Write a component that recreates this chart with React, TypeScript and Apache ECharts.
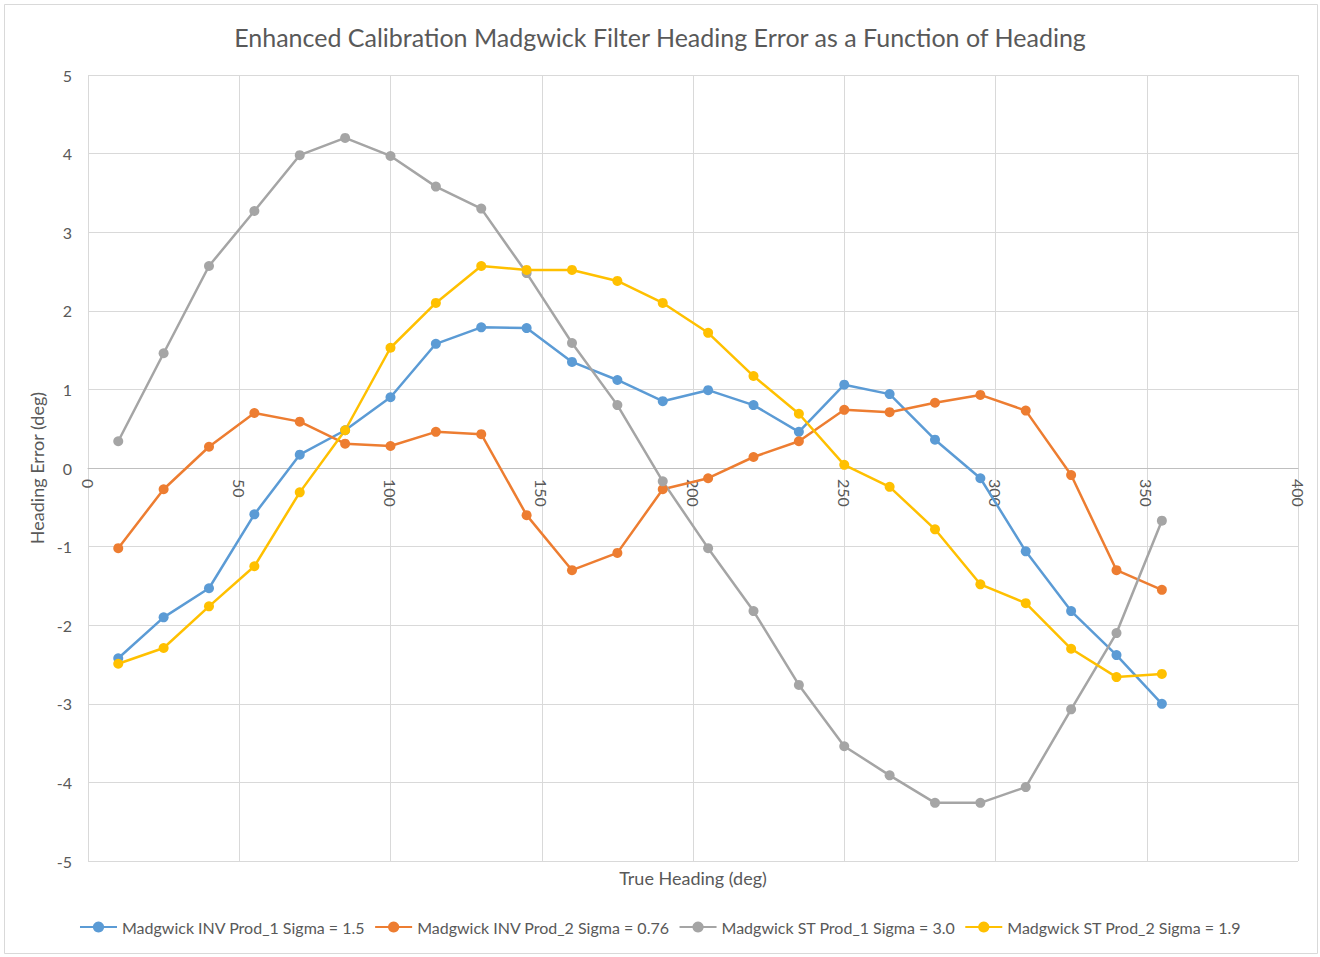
import React, { useEffect, useRef } from "react";
import * as echarts from "echarts";

const titleText = "Enhanced Calibration Madgwick Filter Heading Error as a Function of Heading";
const xAxisName = "True Heading (deg)";
const yAxisName = "Heading Error (deg)";

const headings = [10, 25, 40, 55, 70, 85, 100, 115, 130, 145, 160, 175, 190, 205, 220, 235, 250, 265, 280, 295, 310, 325, 340, 355];

const seriesNames = [
  "Madgwick INV Prod_1 Sigma = 1.5",
  "Madgwick INV Prod_2 Sigma = 0.76",
  "Madgwick ST Prod_1 Sigma = 3.0",
  "Madgwick ST Prod_2 Sigma = 1.9",
];

const invProd1 = [-2.42, -1.9, -1.53, -0.59, 0.17, 0.48, 0.9, 1.58, 1.79, 1.78, 1.35, 1.12, 0.85, 0.99, 0.8, 0.46, 1.06, 0.94, 0.36, -0.13, -1.06, -1.82, -2.38, -3.0];
const invProd2 = [-1.02, -0.27, 0.27, 0.7, 0.59, 0.31, 0.28, 0.46, 0.43, -0.6, -1.3, -1.08, -0.27, -0.13, 0.14, 0.34, 0.74, 0.71, 0.83, 0.93, 0.73, -0.09, -1.3, -1.55];
const stProd1 = [0.34, 1.46, 2.57, 3.27, 3.98, 4.2, 3.97, 3.58, 3.3, 2.48, 1.59, 0.8, -0.17, -1.02, -1.82, -2.76, -3.54, -3.91, -4.26, -4.26, -4.06, -3.07, -2.1, -0.67];
const stProd2 = [-2.49, -2.29, -1.76, -1.25, -0.31, 0.48, 1.53, 2.1, 2.57, 2.52, 2.52, 2.38, 2.1, 1.72, 1.17, 0.69, 0.04, -0.24, -0.78, -1.48, -1.72, -2.3, -2.66, -2.62];

const seriesValues = [invProd1, invProd2, stProd1, stProd2];
const colors = ["#5B9BD5", "#ED7D31", "#A5A5A5", "#FFC000"];

const FONT = "Lato, 'Open Sans', sans-serif";
const TEXT = "#595959";

export default function App() {
  const ref = useRef<HTMLDivElement>(null);

  useEffect(() => {
    if (!ref.current) return;
    const chart = echarts.init(ref.current, undefined, { renderer: "svg" });
    chart.setOption({
      animation: false,
      backgroundColor: "#ffffff",
      textStyle: { fontFamily: FONT },
      title: {
        text: titleText,
        left: "center",
        top: 19,
        textStyle: { fontFamily: FONT, fontSize: 25, fontWeight: "normal", color: TEXT },
      },
      grid: { left: 88, right: 22, top: 75, bottom: 96, containLabel: false },
      legend: {
        top: 914,
        left: "center",
        itemWidth: 37,
        itemHeight: 14,
        itemGap: 9,
        textStyle: { fontFamily: FONT, fontSize: 16, color: TEXT },
        data: seriesNames,
      },
      graphic: [
        {
          type: "rect",
          shape: { x: 4.5, y: 4.5, width: 1313, height: 949 },
          style: { fill: "none", stroke: "#D9D9D9", lineWidth: 1 },
          silent: true,
        },
        {
          type: "text",
          x: 693,
          y: 878,
          style: {
            text: xAxisName,
            fontFamily: FONT,
            fontSize: 18,
            fill: TEXT,
            textAlign: "center",
            textVerticalAlign: "middle",
          },
        },
      ],
      xAxis: {
        type: "value",
        min: 0,
        max: 400,
        interval: 50,
        position: "bottom",
        offset: -393,
        axisLine: { show: true, onZero: false, lineStyle: { color: "#BFBFBF", width: 1 } },
        axisTick: { show: false },
        axisLabel: { rotate: -90, margin: 11, fontFamily: FONT, fontSize: 16, color: TEXT },
        splitLine: { show: true, lineStyle: { color: "#D9D9D9", width: 1 } },
      },
      yAxis: {
        type: "value",
        min: -5,
        max: 5,
        interval: 1,
        name: yAxisName,
        nameLocation: "middle",
        nameGap: 39,
        nameTextStyle: { fontFamily: FONT, fontSize: 18, color: TEXT },
        axisLine: { show: false, onZero: false },
        axisTick: { show: false },
        axisLabel: { margin: 16, fontFamily: FONT, fontSize: 16, color: TEXT },
        splitLine: { show: true, lineStyle: { color: "#D9D9D9", width: 1 } },
      },
      series: seriesNames.map((name, i) => ({
        name,
        type: "line",
        data: headings.map((h, j) => [h, seriesValues[i][j]]),
        symbol: "circle",
        symbolSize: 10,
        color: colors[i],
        lineStyle: { width: 2.5, color: colors[i] },
        itemStyle: { color: colors[i] },
      })),
    });
    return () => chart.dispose();
  }, []);

  return (
    <div
      ref={ref}
      style={{ position: "absolute", left: 0, top: 0, width: 1320, height: 957 }}
    />
  );
}
